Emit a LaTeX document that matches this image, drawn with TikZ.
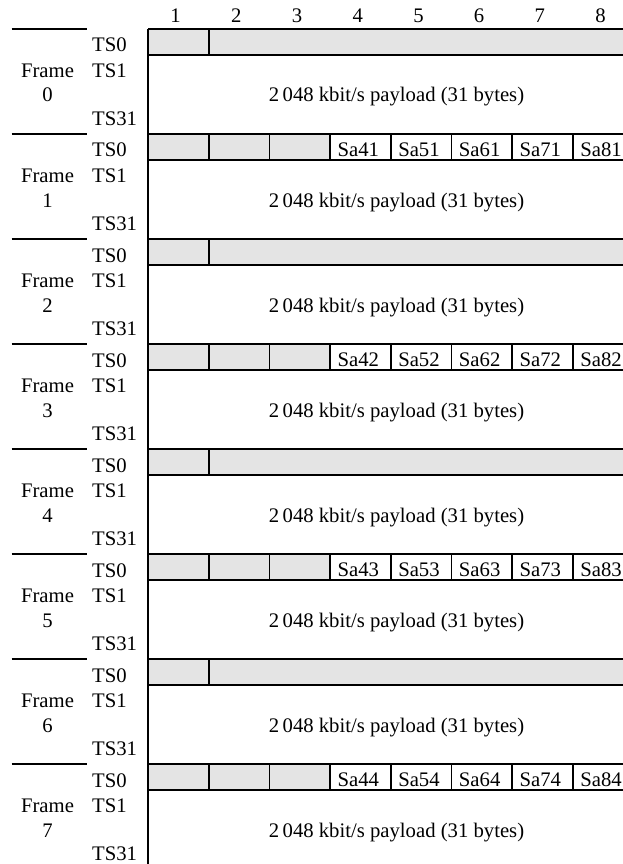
\documentclass[tikz,border=0pt]{standalone}
\usepackage{fontspec}
\setmainfont{Liberation Serif}
\definecolor{cellgray}{RGB}{228,228,228}
\tikzset{
  lbl/.style={inner sep=0pt, anchor=base, font=\fontsize{20.7}{24}\selectfont},
  lblw/.style={lbl, anchor=base west},
  rule/.style={line width=1.6pt},
}
\begin{document}
\begin{tikzpicture}[x=1pt,y=-1pt]
\useasboundingbox (0,0) rectangle (623,864);
\def\L{148}
\def\W{60.7}
\def\R{680}
% column headers
\foreach \i in {1,...,8} {
  \node[lbl] (h\i) at ({\L+\W*(\i-0.5)-2.7},22.3) {\i};
}
\foreach \k in {0,...,7} {
  \pgfmathsetmacro\T{29+105*\k}
  \pgfmathtruncatemacro\odd{mod(\k,2)}
  \pgfmathtruncatemacro\s{(\k+1)/2}
  \ifnum\odd=0
    \fill[cellgray] (\L,\T) rectangle (\R,\T+26);
    \draw[rule] ({\L+\W},\T) -- ++(0,26);
  \else
    \fill[cellgray] (\L,\T) rectangle ({\L+3*\W},\T+26);
    \foreach \c in {1,...,7} { \draw[rule] ({\L+\W*\c},\T) -- ++(0,26); }
    \foreach \c in {4,...,8} {
      \node[lbl] (sa\c\s) at ({\L+\W*(\c-0.5)-2.2},\T+22.6) {Sa\c\s};
    }
  \fi
  \draw[rule] (\L,\T) -- (\R,\T);
  \draw[rule] (\L,\T+26) -- (\R,\T+26);
  \draw[rule] (\L,\T) -- (\L,\T+105);
  \draw[rule] (11.7,\T) -- (86.7,\T);
  \node[lbl] (fr\k) at (47.5,\T+48.5) {Frame};
  \node[lbl] (fn\k) at (47.5,\T+73) {\k};
  \node[lblw] (tsa\k) at (92,\T+23) {TS0};
  \node[lblw] (tsb\k) at (92,\T+48.5) {TS1};
  \node[lblw] (tsc\k) at (92,\T+96.3) {TS31};
  \node[lbl] (pl\k) at (396.5,\T+73) {2\,048 kbit/s payload (31 bytes)};
}
\end{tikzpicture}
\end{document}
